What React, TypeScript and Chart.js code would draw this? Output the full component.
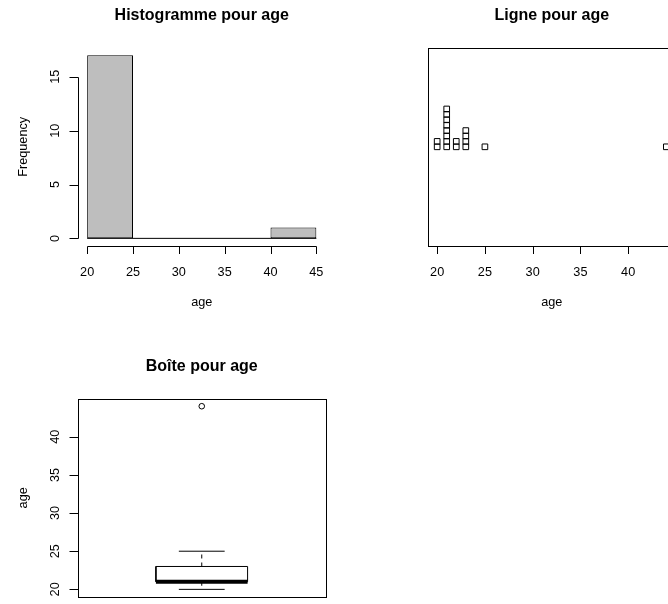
import React, { useEffect, useRef } from "react";
import { Chart, registerables } from "chart.js";

Chart.register(...registerables);

// ---------------- data ----------------
const AGES = [20, 20, 21, 21, 21, 21, 21, 21, 21, 21, 22, 22, 23, 23, 23, 23, 25, 44];
const HIST_BREAKS = [20, 25, 30, 35, 40, 45];
const HIST_X_TICKS = [20, 25, 30, 35, 40, 45];
const HIST_Y_TICKS = [0, 5, 10, 15];
const STRIP_X_TICKS = [20, 25, 30, 35, 40];
const BOX_Y_TICKS = [20, 25, 30, 35, 40];
const PANEL_TITLES = ["Histogramme pour age", "Ligne pour age", "Boîte pour age"];
const X_TITLE = "age";
const HIST_Y_TITLE = "Frequency";
const BOX_Y_TITLE = "age";

// ---------------- layout / style ----------------
const FONT = '"Liberation Sans", Arial, Helvetica, sans-serif';
const PANEL_W = 351;
const PANEL_H = 351;
const AREA = { left: 78, right: 325.5, top: 47.9, bottom: 245.7 };
const TICK_FONT = 12.7;
const TITLE_FONT = 16;
const STACK_STEP = 0.0295;
const BOX_HALF = 0.2;
const STAPLE_HALF = 0.1;

Chart.defaults.font.family = FONT;
Chart.defaults.color = "#000";

const ext = (lo: number, hi: number) => {
  const d = (hi - lo) * 0.04;
  return [lo - d, hi + d];
};

function histCounts(v: number[], br: number[]) {
  return br.slice(0, -1).map((b, i) =>
    v.filter((x) => (i === 0 ? x >= b : x > b) && x <= br[i + 1]).length
  );
}

function boxStats(v: number[]) {
  const s = [...v].sort((a, b) => a - b);
  const n = s.length;
  const n4 = Math.floor((n + 3) / 2) / 2;
  const d = [1, n4, (n + 1) / 2, n + 1 - n4, n];
  const f = d.map((p) => 0.5 * (s[Math.floor(p) - 1] + s[Math.ceil(p) - 1]));
  const iqr = f[3] - f[1];
  const lo = f[1] - 1.5 * iqr;
  const hi = f[3] + 1.5 * iqr;
  const inside = s.filter((x) => x >= lo && x <= hi);
  return {
    q1: f[1],
    med: f[2],
    q3: f[3],
    loW: Math.min(...inside),
    hiW: Math.max(...inside),
    out: s.filter((x) => x < lo || x > hi),
  };
}

function titleOpts(text: string) {
  const lh = TITLE_FONT * 1.2;
  const pt = 5.9;
  return {
    display: true,
    text,
    fullSize: false,
    color: "#000",
    font: { size: TITLE_FONT, weight: "bold" as const, family: FONT },
    padding: { top: pt, bottom: AREA.top - pt - lh },
  };
}

function xScale(min: number, max: number, ticks: number[], label: string) {
  return {
    type: "linear" as const,
    min,
    max,
    offset: false,
    grid: { display: false, drawTicks: false, offset: false },
    border: { display: false },
    afterBuildTicks: (s: any) => {
      s.ticks = ticks.map((v) => ({ value: v }));
    },
    afterFit: (s: any) => {
      s.height = PANEL_H - AREA.bottom;
    },
    ticks: {
      autoSkip: false,
      minRotation: 0,
      maxRotation: 0,
      padding: 19.2,
      color: "#000",
      font: { size: TICK_FONT, family: FONT },
      callback: (v: any) => String(v),
    },
    title: {
      display: true,
      text: label,
      color: "#000",
      font: { size: TICK_FONT, family: FONT },
      padding: { top: 0, bottom: PANEL_H - 302.7 - TICK_FONT * 0.6 },
    },
  };
}

function yScale(min: number, max: number, ticks: number[], label: string) {
  return {
    type: "linear" as const,
    min,
    max,
    grid: { display: false, drawTicks: false },
    border: { display: false },
    afterBuildTicks: (s: any) => {
      s.ticks = ticks.map((v) => ({ value: v }));
    },
    afterFit: (s: any) => {
      s.width = AREA.left;
    },
    ticks: {
      autoSkip: false,
      minRotation: 90,
      maxRotation: 90,
      crossAlign: "center" as const,
      padding: 15.2,
      color: "#000",
      font: { size: TICK_FONT, family: FONT },
      callback: (v: any) => String(v),
    },
    title: {
      display: true,
      text: label,
      color: "#000",
      font: { size: TICK_FONT, family: FONT },
      padding: { top: 23 - TICK_FONT * 0.6, bottom: 0 },
    },
  };
}

// R-style axes: line from first to last tick, outward tick marks, optional box
function makeRAxes(cfg: { box: boolean; axes: { id: string; side: "bottom" | "left"; len: number }[] }) {
  return {
    id: "rAxes",
    afterDraw(chart: any) {
      const { ctx, chartArea: a } = chart;
      const c = (v: number) => Math.round(v) + 0.5;
      ctx.save();
      ctx.strokeStyle = "#000";
      ctx.lineWidth = 1;
      if (cfg.box) {
        ctx.strokeRect(c(a.left), c(a.top), Math.round(a.right) - Math.round(a.left), Math.round(a.bottom) - Math.round(a.top));
      }
      for (const ax of cfg.axes) {
        const s = chart.scales[ax.id];
        const vals = s.ticks.map((t: any) => t.value);
        const px = vals.map((v: number) => c(s.getPixelForValue(v)));
        ctx.beginPath();
        if (ax.side === "bottom") {
          const y0 = c(a.bottom);
          ctx.moveTo(px[0], y0);
          ctx.lineTo(px[px.length - 1], y0);
          for (const p of px) {
            ctx.moveTo(p, y0);
            ctx.lineTo(p, y0 + ax.len);
          }
        } else {
          const x0 = c(a.left);
          ctx.moveTo(x0, px[0]);
          ctx.lineTo(x0, px[px.length - 1]);
          for (const p of px) {
            ctx.moveTo(x0, p);
            ctx.lineTo(x0 - ax.len, p);
          }
        }
        ctx.stroke();
      }
      ctx.restore();
    },
  };
}

const baseOptions = (padding: any) => ({
  animation: false as const,
  responsive: false,
  maintainAspectRatio: false,
  events: [],
  layout: { padding },
});

function histConfig(): any {
  const counts = histCounts(AGES, HIST_BREAKS);
  const mids = HIST_BREAKS.slice(0, -1).map((b, i) => (b + HIST_BREAKS[i + 1]) / 2);
  const [xmin, xmax] = ext(HIST_BREAKS[0], HIST_BREAKS[HIST_BREAKS.length - 1]);
  const [ymin, ymax] = ext(0, Math.max(...counts));
  return {
    type: "bar",
    data: {
      datasets: [
        {
          type: "bar",
          data: mids.map((m, i) => ({ x: m, y: counts[i] })),
          backgroundColor: "#BEBEBE",
          borderColor: "#000",
          borderWidth: 1,
          borderSkipped: false,
          barPercentage: 1,
          categoryPercentage: 1,
          inflateAmount: 0,
        },
        {
          type: "line",
          data: [
            { x: HIST_BREAKS[0], y: 0 },
            { x: HIST_BREAKS[HIST_BREAKS.length - 1], y: 0 },
          ],
          borderColor: "#000",
          borderWidth: 1,
          pointRadius: 0,
        },
      ],
    },
    options: {
      ...baseOptions({ left: 0, right: PANEL_W - AREA.right, top: 0, bottom: 0 }),
      plugins: { legend: { display: false }, tooltip: { enabled: false }, title: titleOpts(PANEL_TITLES[0]) },
      scales: {
        x: xScale(xmin, xmax, HIST_X_TICKS, X_TITLE),
        y: yScale(ymin, ymax, HIST_Y_TICKS, HIST_Y_TITLE),
      },
    },
    plugins: [makeRAxes({ box: false, axes: [{ id: "x", side: "bottom", len: 7.5 }, { id: "y", side: "left", len: 9 }] })],
  };
}

function stripConfig(): any {
  const uniq = Array.from(new Set(AGES)).sort((a, b) => a - b);
  const pts: { x: number; y: number }[] = [];
  for (const u of uniq) {
    AGES.filter((a) => a === u).forEach((_, k) => pts.push({ x: u, y: 1 + k * STACK_STEP }));
  }
  const [xmin, xmax] = ext(Math.min(...AGES), Math.max(...AGES));
  const [ymin, ymax] = ext(0.5, 1.5);
  return {
    type: "scatter",
    data: {
      datasets: [
        {
          data: pts,
          pointStyle: "rect",
          radius: 4,
          borderColor: "#000",
          borderWidth: 1,
          backgroundColor: "rgba(0,0,0,0)",
        },
      ],
    },
    options: {
      ...baseOptions({ left: AREA.left, right: PANEL_W - AREA.right, top: 0, bottom: 0 }),
      plugins: { legend: { display: false }, tooltip: { enabled: false }, title: titleOpts(PANEL_TITLES[1]) },
      scales: {
        x: xScale(xmin, xmax, STRIP_X_TICKS, X_TITLE),
        y: { type: "linear", min: ymin, max: ymax, display: false },
      },
    },
    plugins: [makeRAxes({ box: true, axes: [{ id: "x", side: "bottom", len: 7.5 }] })],
  };
}

function boxConfig(): any {
  const st = boxStats(AGES);
  const [xmin, xmax] = ext(0.5, 1.5);
  const [ymin, ymax] = ext(Math.min(...AGES), Math.max(...AGES));
  const line = (data: any[], extra: any = {}) => ({
    data,
    showLine: true,
    borderColor: "#000",
    borderWidth: 1,
    pointRadius: 0,
    fill: false,
    ...extra,
  });
  return {
    type: "scatter",
    data: {
      datasets: [
        line([
          { x: 1 - BOX_HALF, y: st.q1 },
          { x: 1 + BOX_HALF, y: st.q1 },
          { x: 1 + BOX_HALF, y: st.q3 },
          { x: 1 - BOX_HALF, y: st.q3 },
          { x: 1 - BOX_HALF, y: st.q1 },
        ]),
        line([{ x: 1, y: st.q3 }, { x: 1, y: st.hiW }], { borderDash: [4, 4] }),
        line([{ x: 1, y: st.q1 }, { x: 1, y: st.loW }], { borderDash: [4, 4] }),
        line([{ x: 1 - STAPLE_HALF, y: st.hiW }, { x: 1 + STAPLE_HALF, y: st.hiW }]),
        line([{ x: 1 - STAPLE_HALF, y: st.loW }, { x: 1 + STAPLE_HALF, y: st.loW }]),
        line([{ x: 1 - BOX_HALF, y: st.med }, { x: 1 + BOX_HALF, y: st.med }], { borderWidth: 4, borderCapStyle: "butt" }),
        {
          data: st.out.map((o) => ({ x: 1, y: o })),
          pointStyle: "circle",
          radius: 2.8,
          borderColor: "#000",
          borderWidth: 1,
          backgroundColor: "rgba(0,0,0,0)",
        },
      ],
    },
    options: {
      ...baseOptions({ left: 0, right: PANEL_W - AREA.right, top: 0, bottom: PANEL_H - AREA.bottom }),
      plugins: { legend: { display: false }, tooltip: { enabled: false }, title: titleOpts(PANEL_TITLES[2]) },
      scales: {
        x: { type: "linear", min: xmin, max: xmax, display: false },
        y: yScale(ymin, ymax, BOX_Y_TICKS, BOX_Y_TITLE),
      },
    },
    plugins: [makeRAxes({ box: true, axes: [{ id: "y", side: "left", len: 9 }] })],
  };
}

function Panel({ left, top, make }: { left: number; top: number; make: () => any }) {
  const ref = useRef<HTMLCanvasElement>(null);
  useEffect(() => {
    const chart = new Chart(ref.current as HTMLCanvasElement, make());
    return () => chart.destroy();
  }, []);
  return (
    <div style={{ position: "absolute", left, top, width: PANEL_W, height: PANEL_H }}>
      <canvas ref={ref} width={PANEL_W} height={PANEL_H} style={{ width: PANEL_W, height: PANEL_H, display: "block" }} />
    </div>
  );
}

export default function App() {
  return (
    <div
      style={{
        position: "fixed",
        left: 0,
        top: 0,
        width: 668,
        height: 604,
        overflow: "hidden",
        background: "#fff",
      }}
    >
      <Panel left={0} top={0} make={histConfig} />
      <Panel left={350} top={0} make={stripConfig} />
      <Panel left={0} top={351} make={boxConfig} />
    </div>
  );
}
